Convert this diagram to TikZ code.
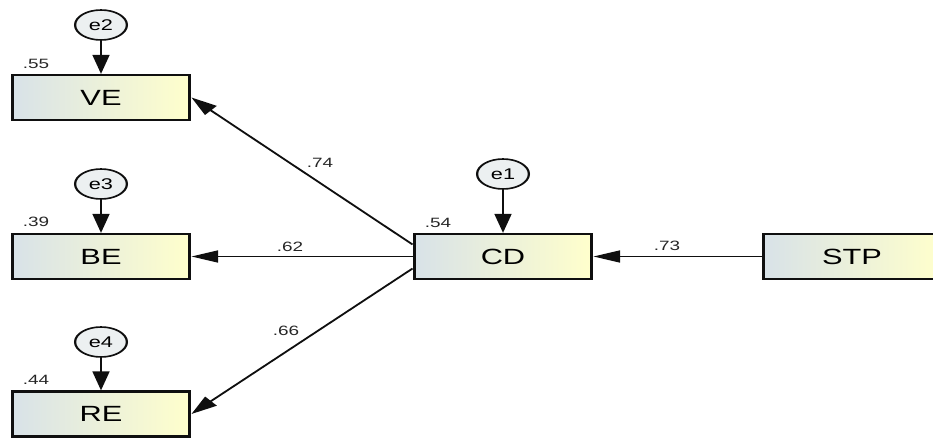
\documentclass[tikz,border=0pt]{standalone}
\usepackage{fontspec}
\setmainfont{Liberation Sans}
\usetikzlibrary{arrows.meta,shapes.geometric}
\definecolor{boxL}{RGB}{216,226,232}
\definecolor{boxR}{RGB}{255,255,204}
\definecolor{errF}{RGB}{236,240,241}
\definecolor{lineC}{RGB}{15,15,15}
\begin{document}
\begin{tikzpicture}[x=1pt,y=-1pt,
  obs/.style={rectangle, draw=lineC, line width=2.2pt, left color=boxL, right color=boxR,
    minimum width=127pt, minimum height=45pt, inner sep=0pt, font=\fontsize{22}{22}\selectfont},
  err/.style={ellipse, draw=lineC, line width=1.6pt, fill=errF, minimum width=37pt,
    minimum height=30pt, inner sep=0pt, font=\fontsize{15.5}{15.5}\selectfont},
  coef/.style={inner sep=0pt, font=\fontsize{13.5}{13.5}\selectfont, text=black!85},
  pathline/.style={draw=lineC, line width=1.6pt, -{Triangle[length=19pt,width=12pt]}}
]
\useasboundingbox (0,0) rectangle (933,438);
\begin{scope}[transform canvas={xscale=1.4}, x=0.714286pt]
  % observed variables
  \node[obs] (VE)  at (101,97.5)  {VE};
  \node[obs] (BE)  at (101,256.5) {BE};
  \node[obs] (RE)  at (101,414)   {RE};
  \node[obs] (CD)  at (503,256.5) {CD};
  \node[obs] (STP) at (852,256.5) {STP};
  % error terms
  \node[err] (e2) at (101,25)  {e2};
  \node[err] (e3) at (101,184) {e3};
  \node[err] (e4) at (101,342) {e4};
  \node[err] (e1) at (503,174) {e1};
  % paths
  \draw[pathline] (e2) -- (VE);
  \draw[pathline] (e3) -- (BE);
  \draw[pathline] (e4) -- (RE);
  \draw[pathline] (e1) -- (CD);
  \draw[pathline] (STP) -- (CD);
  \draw[pathline] (CD) -- (BE);
  \draw[pathline] ([yshift=12pt]CD.west) -- (VE.east);
  \draw[pathline] ([yshift=-12pt]CD.west) -- (RE.east);
  % coefficients
  \node[coef] (c74) at (320,163) {.74};
  \node[coef] (c62) at (290,247) {.62};
  \node[coef] (c66) at (286,331) {.66};
  \node[coef] (c73) at (667,246) {.73};
  % squared multiple correlations
  \node[coef] (r55) at (36,64)  {.55};
  \node[coef] (r39) at (36,222) {.39};
  \node[coef] (r44) at (36,380) {.44};
  \node[coef] (r54) at (438,223) {.54};
\end{scope}
\end{tikzpicture}
\end{document}
